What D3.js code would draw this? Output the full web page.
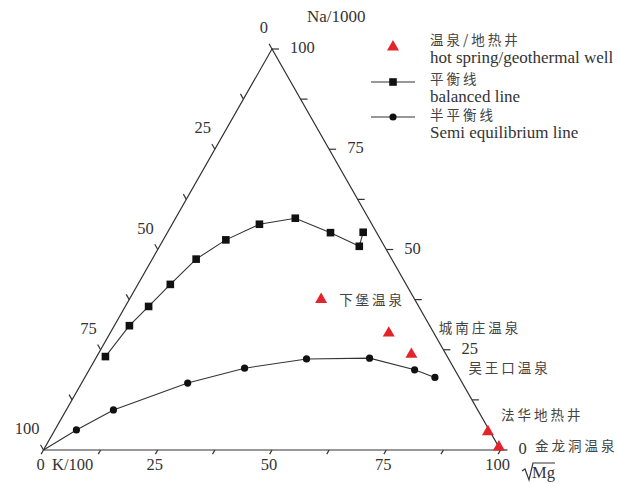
<!DOCTYPE html>
<html>
<head>
<meta charset="utf-8">
<script src="https://cdn.jsdelivr.net/npm/d3@7"></script>
<style>
    body { margin: 0; background: #fff; }
    svg { display: block; }
    .axis line, .edge { stroke: #333; stroke-width: 1.2; fill: none; }
    .num { font-family: "Liberation Serif", "Times New Roman", serif; font-size: 16.5px; fill: #333; }
    .cn { font-family: "Noto Sans CJK SC", sans-serif; font-size: 13.5px; fill: #444; letter-spacing: 3px; }
    .en { font-family: "Liberation Serif", "Times New Roman", serif; font-size: 17px; fill: #333; }
</style>
</head>
<body>
<div class="container"></div>
<script>
// ternary values in percent: Na (top), Mg (bottom right), K = 100 - Na - Mg
var balancedNa = [23.3, 31, 35.8, 41.3, 47.6, 52.4, 56.3, 57.8, 54.2, 50.8, 54.3];
var balancedMg = [1.9, 3.3, 5.1, 7.1, 9.6, 13.7, 19.1, 26.2, 35.7, 43.7, 42.8];

var semiNa = [0, 5, 10, 16.7, 20.4, 22.7, 22.9, 20, 18.1];
var semiMg = [0, 4.7, 10.3, 23.2, 33.8, 46.2, 59.9, 71.2, 76.6];

var springNames = ['下堡温泉', '城南庄温泉', '吴王口温泉', '法华地热井', '金龙洞温泉'];
var springNa = [37.3, 28.9, 23.6, 4.3, 0.5];
var springMg = [42.1, 61.1, 68.7, 95.1, 99.4];

var tickValues = [0, 12.5, 25, 37.5, 50, 62.5, 75, 87.5, 100];
var labelValues = [0, 25, 50, 75, 100];

// where each spring label sits relative to its triangle
var springLabelOffsets = [[18, 0], [50, -6], [57, 13], [13, -18], [36, -2]];

const WIDTH = 618;
const HEIGHT = 484;
const TICK = 6;

var xScale = d3.scaleLinear().domain([0, 100]).range([43.5, 500.5]);
var yScale = d3.scaleLinear().domain([0, 100]).range([450, 49]);

var project = function (na, mg) {
    return [xScale(mg + na / 2), yScale(na)];
};

var drawTriangle = function (svg) {
    var corners = [project(100, 0), project(0, 0), project(0, 100)];
    svg.append('path')
        .classed('edge', true)
        .attr('d', 'M' + corners.join('L') + 'Z');

    var axis = svg.append('g').classed('axis', true);
    // right edge: Na, ticks horizontal
    tickValues.forEach(function (v) {
        var p = project(v, 100 - v);
        axis.append('line').attr('x1', p[0]).attr('y1', p[1]).attr('x2', p[0] + TICK + 1).attr('y2', p[1]);
    });
    // left edge: K, ticks up-left
    tickValues.forEach(function (v) {
        var p = project(100 - v, 0);
        axis.append('line').attr('x1', p[0]).attr('y1', p[1])
            .attr('x2', p[0] - 0.495 * TICK).attr('y2', p[1] - 0.869 * TICK);
    });
    // bottom edge: Mg, ticks down-left
    tickValues.forEach(function (v) {
        var p = project(0, v);
        axis.append('line').attr('x1', p[0]).attr('y1', p[1])
            .attr('x2', p[0] - 0.497 * TICK * 0.8).attr('y2', p[1] + 0.868 * TICK * 0.8);
    });

    labelValues.forEach(function (v) {
        var r = project(v, 100 - v);
        svg.append('text').classed('num', true)
            .attr('x', r[0] + 18).attr('y', r[1] + 4).text(v);
        var l = project(100 - v, 0);
        svg.append('text').classed('num', true).attr('text-anchor', 'end')
            .attr('x', l[0] - 4).attr('y', l[1] - 16).text(v);
        var b = project(0, v);
        svg.append('text').classed('num', true).attr('text-anchor', 'middle')
            .attr('x', b[0] - 3).attr('y', b[1] + 20).text(v);
    });

    svg.append('text').classed('num', true).style('font-size', '17px')
        .attr('x', 307).attr('y', 22).text('Na/1000');
    svg.append('text').classed('num', true).attr('x', 52).attr('y', 470).text('K/100');

    var mg = svg.append('g').attr('transform', 'translate(522,476)');
    mg.append('path').attr('d', 'M0,-5 L3,-7 L7,4 L11,-13 L33,-13')
        .attr('fill', 'none').attr('stroke', '#333').attr('stroke-width', 1.2);
    mg.append('text').classed('num', true).attr('x', 10).attr('y', 2).text('Mg');
};

var drawSeries = function (svg, naList, mgList, marker, skipFirst) {
    var points = naList.map(function (na, i) {
        return project(na, mgList[i]);
    });
    svg.append('path')
        .attr('d', d3.line()(points))
        .attr('fill', 'none')
        .attr('stroke', '#333')
        .attr('stroke-width', 1.1);
    var marks = points.filter(function (p, i) {
        return !(skipFirst && i == 0);
    });
    if (marker == 'square') {
        svg.selectAll('rect.sq').data(marks).enter().append('rect')
            .attr('x', function (d) { return d[0] - 3.8; })
            .attr('y', function (d) { return d[1] - 3.8; })
            .attr('width', 7.6).attr('height', 7.6)
            .attr('fill', '#111');
    } else {
        svg.selectAll('circle.ci').data(marks).enter().append('circle')
            .attr('cx', function (d) { return d[0]; })
            .attr('cy', function (d) { return d[1]; })
            .attr('r', 3.6)
            .attr('fill', '#111');
    }
};

var triangleSymbol = d3.symbol().type(d3.symbolTriangle).size(62);

var drawSprings = function (svg) {
    springNames.forEach(function (name, i) {
        var p = project(springNa[i], springMg[i]);
        svg.append('path')
            .attr('d', triangleSymbol())
            .attr('transform', 'translate(' + p[0] + ',' + (p[1] - 1) + ')')
            .attr('fill', '#e3242b');
        svg.append('text').classed('cn', true)
            .attr('x', p[0] + springLabelOffsets[i][0])
            .attr('y', p[1] + springLabelOffsets[i][1] + 5)
            .text(name);
    });
};

var drawLegend = function (svg) {
    var lg = svg.append('g');
    lg.append('path').attr('d', triangleSymbol())
        .attr('transform', 'translate(393,47)').attr('fill', '#e3242b');
    lg.append('text').classed('cn', true).attr('x', 430).attr('y', 45).text('温泉/地热井');
    lg.append('text').classed('en', true).attr('x', 430).attr('y', 63).text('hot spring/geothermal well');

    lg.append('line').attr('x1', 371).attr('x2', 415).attr('y1', 82).attr('y2', 82)
        .attr('stroke', '#333').attr('stroke-width', 1.1);
    lg.append('rect').attr('x', 389.2).attr('y', 78.2).attr('width', 7.6).attr('height', 7.6).attr('fill', '#111');
    lg.append('text').classed('cn', true).attr('x', 430).attr('y', 84).text('平衡线');
    lg.append('text').classed('en', true).attr('x', 430).attr('y', 101.5).text('balanced line');

    lg.append('line').attr('x1', 371).attr('x2', 415).attr('y1', 117).attr('y2', 117)
        .attr('stroke', '#333').attr('stroke-width', 1.1);
    lg.append('circle').attr('cx', 393).attr('cy', 117).attr('r', 3.6).attr('fill', '#111');
    lg.append('text').classed('cn', true).attr('x', 430).attr('y', 120).text('半平衡线');
    lg.append('text').classed('en', true).attr('x', 430).attr('y', 138).text('Semi equilibrium line');
};

var visualize = function () {
    var svg = d3.select('.container').append('svg')
        .attr('width', WIDTH)
        .attr('height', HEIGHT);

    drawTriangle(svg);
    drawSeries(svg, balancedNa, balancedMg, 'square', false);
    drawSeries(svg, semiNa, semiMg, 'circle', true);
    drawSprings(svg);
    drawLegend(svg);
};

window.onload = visualize;
</script>
</body>
</html>
